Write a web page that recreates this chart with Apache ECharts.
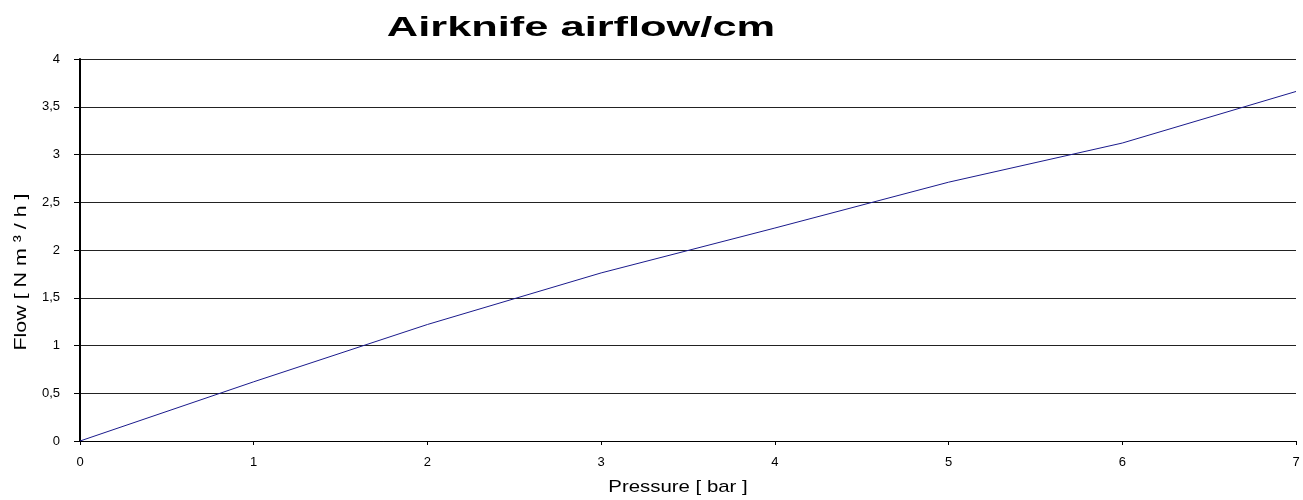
<!DOCTYPE html>
<html>
<head>
<meta charset="utf-8">
<script src="https://cdn.jsdelivr.net/npm/echarts@6/dist/echarts.min.js"></script>
<style>
  html, body { margin: 0; padding: 0; background: #fff; }
  #chart { width: 1303px; height: 500px; }
</style>
</head>
<body>
<div id="chart"></div>
<script>
// pressure in bar, flow in Nm3/h per cm
const pressure = [0, 1, 2, 3, 4, 5, 6, 7];
const flow = [0, 0.62, 1.22, 1.76, 2.23, 2.71, 3.12, 3.66];

const myChart = echarts.init(document.getElementById('chart'));

// the original texts are drawn wide, so they are stretched with scaleX
const option = {
  animation: false,
  graphic: [
    {
      type: 'text',
      x: 581,
      y: 28,
      scaleX: 1.55,
      style: {
        text: 'Airknife airflow/cm',
        fontFamily: 'Liberation Sans',
        fontWeight: 'bold',
        fontSize: 28,
        fill: '#000',
        align: 'center',
        verticalAlign: 'middle'
      }
    },
    {
      type: 'text',
      x: 678,
      y: 487,
      scaleX: 1.2,
      style: {
        text: 'Pressure [ bar ]',
        fontFamily: 'Liberation Sans',
        fontSize: 17,
        fill: '#000',
        align: 'center',
        verticalAlign: 'middle'
      }
    },
    {
      type: 'text',
      x: 21,
      y: 272,
      rotation: Math.PI / 2,
      scaleX: 1.26,
      style: {
        text: 'Flow [ N m ³ / h ]',
        fontFamily: 'Liberation Sans',
        fontSize: 17,
        fill: '#000',
        align: 'center',
        verticalAlign: 'middle'
      }
    }
  ],
  grid: {
    left: 80,
    right: 7,
    top: 59,
    bottom: 59
  },
  xAxis: {
    type: 'value',
    min: 0,
    max: 7,
    interval: 1,
    axisLine: { lineStyle: { color: '#000', width: 1 } },
    axisTick: { show: true, length: 4, lineStyle: { color: '#000' } },
    axisLabel: { fontFamily: 'Liberation Sans', fontSize: 13, color: '#000', margin: 15 },
    splitLine: { show: false }
  },
  yAxis: {
    type: 'value',
    min: 0,
    max: 4,
    interval: 0.5,
    axisLine: { show: true, lineStyle: { color: '#000', width: 2 } },
    axisTick: { show: true, length: 6, lineStyle: { color: '#000' } },
    axisLabel: {
      fontFamily: 'Liberation Sans',
      fontSize: 13,
      color: '#000',
      margin: 20,
      formatter: v => String(v).replace('.', ',')
    },
    splitLine: { show: true, lineStyle: { color: '#222', width: 1 } }
  },
  series: [
    {
      type: 'line',
      data: pressure.map((p, i) => [p, flow[i]]),
      showSymbol: false,
      lineStyle: { color: '#1a1a8c', width: 1 }
    }
  ]
};

myChart.setOption(option);
</script>
</body>
</html>
